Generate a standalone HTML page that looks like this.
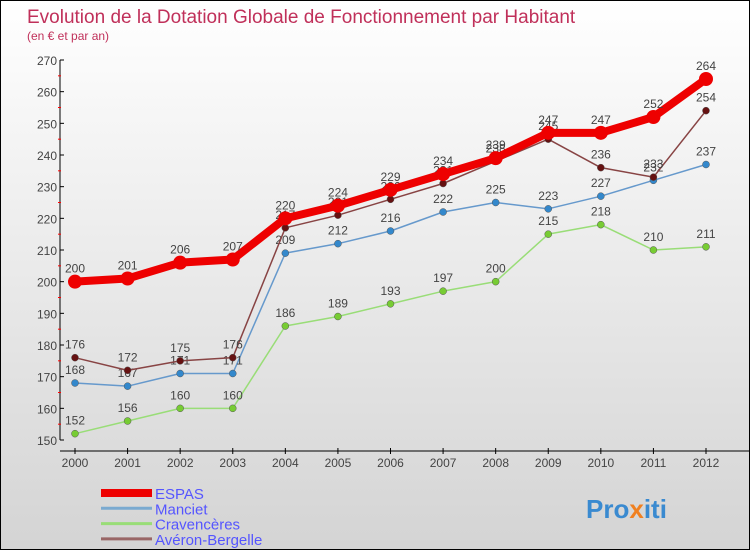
<!DOCTYPE html>
<html><head><meta charset="utf-8"><style>
body{margin:0;}
#wrap{width:748px;height:548px;border:1px solid #000;background:linear-gradient(#ffffff,#d4d4d4);position:relative;overflow:hidden;font-family:"Liberation Sans",sans-serif;}
svg text{font-family:"Liberation Sans",sans-serif;}
</style></head><body>
<div id="wrap">
<svg id="chart" width="748" height="548">
<text x="26" y="22" font-size="19" fill="#c0305a">Evolution de la Dotation Globale de Fonctionnement par Habitant</text>
<text x="26" y="39" font-size="12" fill="#c0305a">(en € et par an)</text>
<text x="585" y="517" font-size="26" font-weight="bold" fill="#3a8ad0">Pro<tspan fill="#f08020">x</tspan>iti</text>
</svg>
</div>
<script>
const years=["2000","2001","2002","2003","2004","2005","2006","2007","2008","2009","2010","2011","2012"];
const yTicks=[150,160,170,180,190,200,210,220,230,240,250,260,270];
const espas=[200,201,206,207,220,224,229,234,239,247,247,252,264];
const manciet=[168,167,171,171,209,212,216,222,225,223,227,232,237];
const cravenceres=[152,156,160,160,186,189,193,197,200,215,218,210,211];
const averon=[176,172,175,176,217,221,226,231,238,245,236,233,254];
const seriesNames=["ESPAS","Manciet","Cravencères","Avéron-Bergelle"];

const svg=document.getElementById('chart');
const NS="http://www.w3.org/2000/svg";
const x0=74,x1=705,yMin=150,yMax=270,yb=439,yt=59;
const xs=i=>x0+(x1-x0)*i/(years.length-1);
const ys=v=>yb-(v-yMin)*(yb-yt)/(yMax-yMin);
function mk(tag,attrs,parent){const e=document.createElementNS(NS,tag);for(const k in attrs)e.setAttribute(k,attrs[k]);(parent||svg).appendChild(e);return e;}

const ax=mk('line',{x1:59,y1:ys(270),x2:59,y2:ys(150),stroke:'#000','stroke-width':1});


const xa=mk('line',{x1:59,y1:450,x2:748,y2:450,stroke:'#000','stroke-width':1});


yTicks.forEach((v,i)=>{
  mk('line',{x1:59,y1:ys(v),x2:63,y2:ys(v),stroke:'#000'});
  if(i<yTicks.length-1) mk('line',{x1:57,y1:ys(v+5),x2:60,y2:ys(v+5),stroke:'#f00'});
  const t=mk('text',{x:56,y:ys(v)+5,'font-size':12,fill:'#444','text-anchor':'end'});
  t.textContent=v;
  
  
});
years.forEach((y,i)=>{
  mk('line',{x1:xs(i),y1:447,x2:xs(i),y2:453,stroke:'#000'});
  const t=mk('text',{x:xs(i),y:466,'font-size':12,fill:'#444','text-anchor':'middle'});
  t.textContent=y;
  
  
});

function drawSeries(data,color,dot,w,r,name){
  const g=mk('g',{});
  
  
  mk('polyline',{points:data.map((v,i)=>xs(i)+','+ys(v)).join(' '),fill:'none',stroke:color,'stroke-width':w,'stroke-linejoin':'round'},g);
  data.forEach((v,i)=>{
    const c=mk('circle',{cx:xs(i),cy:ys(v),r:r,fill:dot,stroke:w>4?'none':'#555','stroke-width':0.5},g);
    
    
    const t=mk('text',{x:xs(i),y:ys(v)-9,'font-size':12,fill:'#444','text-anchor':'middle'},g);
    t.textContent=v;
    
    
  });
}
drawSeries(cravenceres,'#99dd77','#77cc33',1.5,3.5,'cravenceres');
drawSeries(manciet,'#6699cc','#3388cc',1.5,3.5,'manciet');
drawSeries(averon,'#884444','#661111',1.5,3.5,'averon-bergelle');
drawSeries(espas,'#ee0000','#ee0000',8,7,'espas');

const legColors=['#ee0000','#7aaad0','#99dd77','#996666'];
const legW=[8,3,3,3];
seriesNames.forEach((n,i)=>{
  const y=492+i*15.3;
  const g=mk('g',{});
  
  
  mk('line',{x1:100,y1:y,x2:151,y2:y,stroke:legColors[i],'stroke-width':legW[i]},g);
  const t=mk('text',{x:154,y:y+6,'font-size':15,fill:'#5555ff'},g);
  t.textContent=n;
});
</script>
</body></html>
